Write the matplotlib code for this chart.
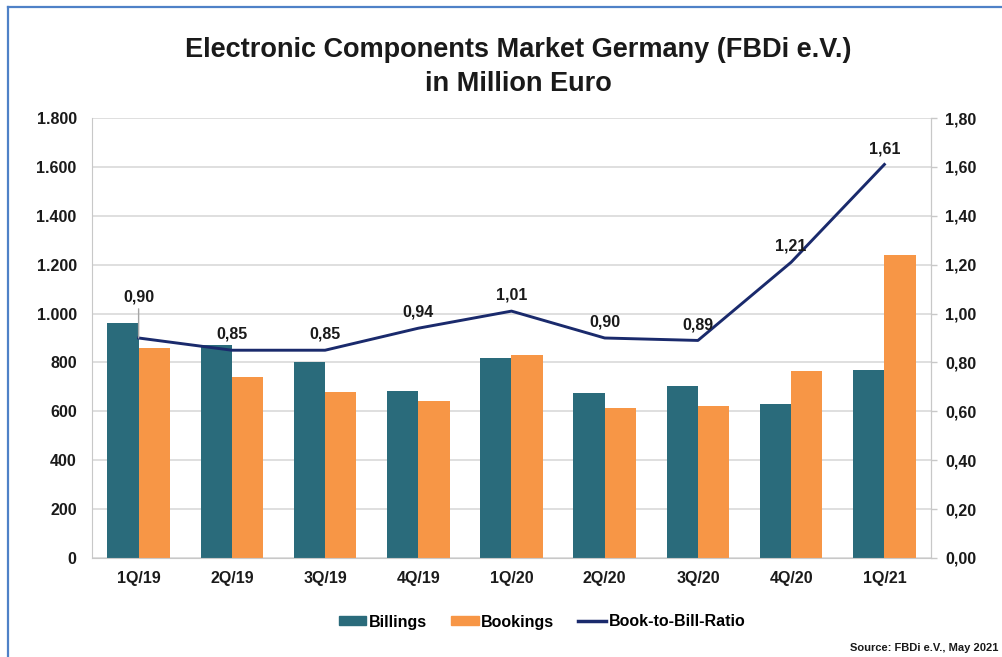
"""
Electronic Components Market Germany (FBDi e.V.)
Billings / Bookings als Balken, Book-to-Bill-Ratio auf rechter Achse
"""

import matplotlib
matplotlib.use('Agg')
import matplotlib.pyplot as plt
import numpy as np
from matplotlib.lines import Line2D
from matplotlib.patches import Patch
from matplotlib.ticker import FuncFormatter

plt.rcParams['font.family'] = ['Liberation Sans', 'DejaVu Sans']
plt.rcParams['font.weight'] = 'bold'

quarters = ['1Q/19', '2Q/19', '3Q/19', '4Q/19', '1Q/20', '2Q/20', '3Q/20', '4Q/20', '1Q/21']
billings = [963, 873, 800, 685, 820, 677, 705, 631, 771]
bookings = [861, 742, 681, 644, 832, 615, 623, 763, 1238]
ratio = [0.90, 0.85, 0.85, 0.94, 1.01, 0.90, 0.89, 1.21, 1.61]

C_BILL = '#2A6B7B'
C_BOOK = '#F79646'
C_LINE = '#1A2A6C'
C_GRID = '#D9D9D9'
C_TEXT = '#1A1A1A'
FS = 11.5

fig = plt.figure(figsize=(10.03, 6.57), dpi=100)
ax1 = fig.add_axes([92 / 1003, 99 / 657, 839 / 1003, 440 / 657])

x = np.arange(len(quarters))
w = 0.335
ax1.bar(x - w / 2, billings, w, color=C_BILL, zorder=2)
ax1.bar(x + w / 2, bookings, w, color=C_BOOK, zorder=2)

ax1.set_xlim(-0.5, len(quarters) - 0.5)
ax1.set_ylim(0, 1800)
ax1.set_yticks(np.arange(0, 1801, 200))
ax1.yaxis.set_major_formatter(FuncFormatter(lambda v, p: f'{int(v):,}'.replace(',', '.')))
ax1.set_xticks(x)
ax1.set_xticklabels(quarters)
ax1.grid(axis='y', color=C_GRID, linewidth=1.2, zorder=0)
ax1.set_axisbelow(True)
ax1.tick_params(axis='y', length=0, pad=11, labelsize=FS, colors=C_TEXT)
ax1.tick_params(axis='x', length=0, pad=9, labelsize=FS, colors=C_TEXT)
for s in ['left', 'bottom', 'right']:
    ax1.spines[s].set_color('#C8C8C8')
ax1.spines['top'].set_visible(False)

# rechte Achse: Book-to-Bill
ax2 = ax1.twinx()
ax2.plot(x, ratio, color=C_LINE, linewidth=2.1, zorder=3)
ax2.set_ylim(0, 1.8)
ax2.set_yticks(np.arange(0, 1.81, 0.2))
ax2.yaxis.set_major_formatter(FuncFormatter(lambda v, p: f'{v:.2f}'.replace('.', ',')))
ax2.tick_params(axis='y', length=4, width=1, color='#C8C8C8', pad=6, labelsize=FS, colors=C_TEXT)
for s in ['left', 'bottom', 'top']:
    ax2.spines[s].set_visible(False)
ax2.spines['right'].set_color('#C8C8C8')

for i, r in enumerate(ratio):
    if i == 0:
        ax2.annotate(f'{r:.2f}'.replace('.', ','), (x[i], r), xytext=(0, 24),
                     textcoords='offset points', ha='center', va='bottom',
                     fontsize=FS, color=C_TEXT,
                     arrowprops=dict(arrowstyle='-', color='#A6A6A6', lw=1,
                                     shrinkA=1, shrinkB=0))
    else:
        ax2.annotate(f'{r:.2f}'.replace('.', ','), (x[i], r), xytext=(0, 6),
                     textcoords='offset points', ha='center', va='bottom',
                     fontsize=FS, color=C_TEXT)

# Titel
fig.text(518 / 1003, 1 - 50 / 657, 'Electronic Components Market Germany (FBDi e.V.)',
         ha='center', va='center', fontsize=19.5, color=C_TEXT)
fig.text(518 / 1003, 1 - 84 / 657, 'in Million Euro',
         ha='center', va='center', fontsize=19.5, color=C_TEXT)

# Legende
handles = [Patch(color=C_BILL), Patch(color=C_BOOK), Line2D([], [], color=C_LINE, lw=2.5)]
fig.legend(handles, ['Billings', 'Bookings', 'Book-to-Bill-Ratio'], loc='center',
           bbox_to_anchor=(542 / 1003, 1 - 622 / 657), ncol=3, frameon=False,
           fontsize=FS, handlelength=1.75, handleheight=0.5, handletextpad=0.15,
           columnspacing=1.5)

fig.text(998 / 1003, 1 - 648 / 657, 'Source: FBDi e.V., May 2021', ha='right', va='center',
         fontsize=8, color=C_TEXT, family=['Liberation Sans Narrow', 'Liberation Sans', 'DejaVu Sans'])

# blauer Rahmen (links und oben)
fig.add_artist(Line2D([8.5 / 1003, 8.5 / 1003], [0, 1 - 6.5 / 657], color='#4F81C7',
                      lw=1.6, transform=fig.transFigure))
fig.add_artist(Line2D([8.5 / 1003, 1], [1 - 6.5 / 657, 1 - 6.5 / 657], color='#4F81C7',
                      lw=1.6, transform=fig.transFigure))

fig.savefig('out.png', dpi=100)
plt.close(fig)
